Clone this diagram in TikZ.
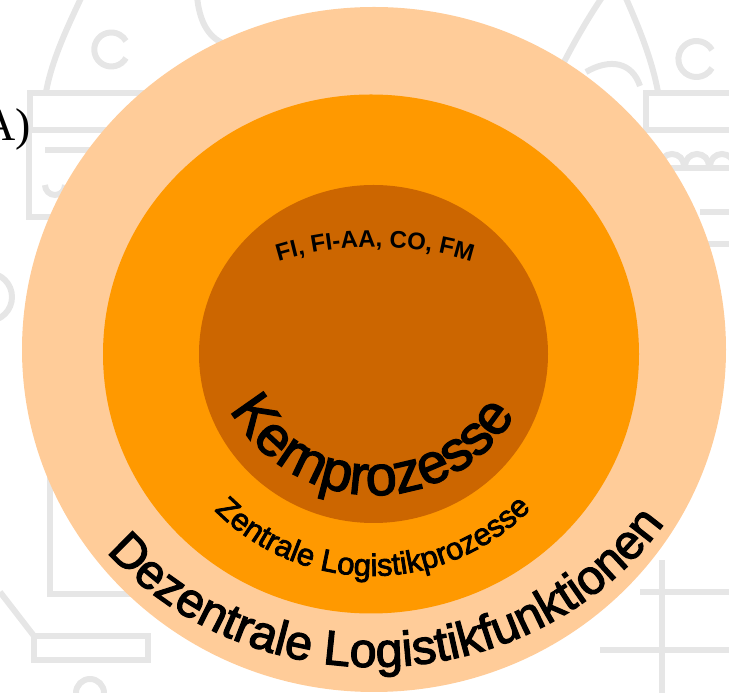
\documentclass[tikz,border=0pt]{standalone}
\usepackage{fontspec}
\setmainfont{Liberation Sans}
\newfontfamily\serifA{Liberation Serif}
\newfontfamily\arcfont{Liberation Sans}[FakeBold=2.5]
\newfontfamily\arcbold{Liberation Sans Bold}
\usetikzlibrary{decorations.text,shapes.geometric}
\definecolor{ringOuter}{HTML}{FFCC99}
\definecolor{ringMid}{HTML}{FF9900}
\definecolor{ringIn}{HTML}{CC6600}
\definecolor{wm}{HTML}{E6E6E6}
\begin{document}
\begin{tikzpicture}[x=1pt,y=1pt,
  wmline/.style={draw=wm, line width=6pt},
  ringnode/.style={ellipse, inner sep=0pt, draw=none},
  arctext/.style={decorate, decoration={text along path, text align=center, text color=black}}]
\useasboundingbox (0,0) rectangle (729,693);
% faint watermark (pixel coordinates, y downwards)
\begin{scope}[yshift=693pt, yscale=-1, wmline]
  % upper left
  \draw (82,-4) .. controls (66,30) and (52,60) .. (46,92);
  \draw (126,58) arc[start angle=30, end angle=330, radius=17];
  \draw (197,-4) .. controls (200,30) and (215,45) .. (238,47);
  \draw (30,93) rectangle (150,130);
  \draw (29,130) -- (29,217) -- (120,217);
  \draw (45,185) arc[start angle=180, end angle=0, radius=10];
  \draw (65,185) arc[start angle=180, end angle=0, radius=10];
  \draw (45,150) -- (95,150);
  \draw (-12,297) circle[radius=24];
  % lower left
  \draw (50,477) -- (50,594) -- (150,594);
  \draw (0,592) -- (34,636);
  \draw (34,636) rectangle (148,660);
  \draw (90,693) circle[radius=14];
  % upper right
  \draw (625,-4) .. controls (640,30) and (652,60) .. (658,92);
  \draw (560,70) .. controls (575,40) and (590,15) .. (603,-4);
  \draw (586,72) .. controls (610,58) and (632,62) .. (640,86);
  \draw (712,50) arc[start angle=-30, end angle=-330, radius=18];
  \draw (660,-4) arc[start angle=180, end angle=360, radius=14];
  \draw (646,93) rectangle (745,130);
  \draw (655,168) -- (735,168);
  \foreach \cx in {672,697,722} \draw (\cx-12,166) arc[start angle=180, end angle=360, radius=12];
  \draw (700,212) -- (735,212);
  \draw (700,244) -- (735,244);
  % lower right
  \draw (640,592) -- (735,592);
  \draw (662,560) -- (662,700);
  \draw (600,650) -- (735,650);
\end{scope}
% rings
\node[ringnode, fill=ringOuter, minimum width=704pt, minimum height=685pt] (outer) at (374,343.5) {};
\node[ringnode, fill=ringMid, minimum width=536pt, minimum height=519pt] (middle) at (371,339) {};
\node[ringnode, fill=ringIn, minimum width=349pt, minimum height=338pt] (inner) at (373.5,339) {};
% label A)
\node[anchor=base east, inner sep=0pt, font=\serifA\fontsize{46}{46}\selectfont] (lbl) at (31,552) {A)};
% curved texts
\path[arctext, decoration={text={|\arcbold\fontsize{24}{24}\selectfont|FI, FI-AA, CO, FM}}]
  ([shift={(375,116)}]110:330pt) arc[start angle=110, end angle=70, radius=330pt];
\path[arctext, decoration={text={|\arcfont\fontsize{56}{56}\selectfont|Kernprozesse}}]
  ([shift={(374,362)}]205:164pt) arc[start angle=205, end angle=333, radius=164pt];
\path[arctext, decoration={text={|\arcfont\fontsize{31}{31}\selectfont|Zentrale Logistikprozesse}}]
  ([shift={(372,339)}]220:222pt) arc[start angle=220, end angle=320.6, radius=222pt];
\path[arctext, decoration={text={|\arcfont\fontsize{48.5}{48.5}\selectfont|Dezentrale Logistikfunktionen}}]
  ([shift={(374,346)}]215:348pt and 320pt) arc[start angle=215, end angle=331.4, x radius=348pt, y radius=320pt];
\end{tikzpicture}
\end{document}
